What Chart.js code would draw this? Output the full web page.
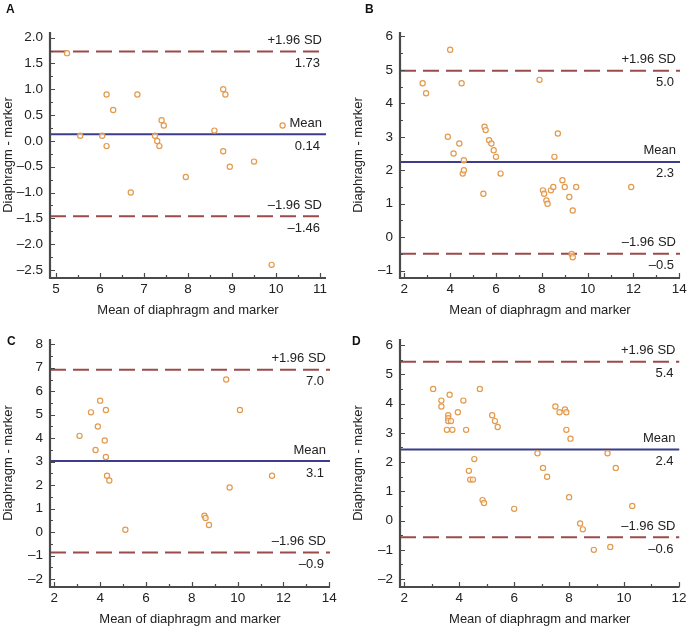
<!DOCTYPE html>
<html>
<head>
<meta charset="utf-8">
<script src="https://cdn.jsdelivr.net/npm/chart.js@4/dist/chart.umd.min.js"></script>
<style>
  html, body { margin: 0; padding: 0; background: #fff; overflow: hidden; }
  #wrap { position: relative; width: 697px; height: 627px; }
  canvas { position: absolute; }
  .tag { position: absolute; font: bold 12px 'Liberation Sans', Arial, sans-serif; color: #111; }
</style>
</head>
<body>
<div id="wrap">
  <canvas id="cA" width="350" height="318" style="left:0;top:0"></canvas>
  <canvas id="cB" width="347" height="318" style="left:350px;top:0"></canvas>
  <canvas id="cC" width="350" height="317" style="left:0;top:310px"></canvas>
  <canvas id="cD" width="347" height="317" style="left:350px;top:310px"></canvas>
  <div class="tag" style="left:6px;top:2px">A</div>
  <div class="tag" style="left:365px;top:2px">B</div>
  <div class="tag" style="left:7px;top:334px">C</div>
  <div class="tag" style="left:352px;top:334px">D</div>
</div>
<script>
// panel A
var aX = [5.25,5.55,6.05,6.15,6.15,6.3,6.7,6.85,7.25,7.3,7.35,7.4,7.45,7.95,8.6,8.8,8.85,8.8,8.95,9.5,9.9,10.15];
var aY = [1.7,0.1,0.1,0.9,-0.1,0.6,-1.0,0.9,0.1,0.0,-0.1,0.4,0.3,-0.7,0.2,1.0,0.9,-0.2,-0.5,-0.4,-2.4,0.3];
var aLines = [1.73, 0.13, -1.46];
var aLabels = ['1.73', '0.14', '–1.46'];

// panel B
var bX = [2.8,2.95,3.9,4.0,4.15,4.4,4.5,4.55,4.6,4.6,5.45,5.5,5.55,5.7,5.8,5.9,6.0,6.2,7.9,8.05,8.1,8.2,8.25,8.4,8.5,8.55,8.7,8.9,9.0,9.2,9.3,9.35,9.35,9.5,11.9];
var bY = [4.6,4.3,3.0,5.6,2.5,2.8,4.6,1.9,2.0,2.3,1.3,3.3,3.2,2.9,2.8,2.6,2.4,1.9,4.7,1.4,1.3,1.1,1.0,1.4,1.5,2.4,3.1,1.7,1.5,1.2,-0.5,0.8,-0.6,1.5,1.5];
var bLines = [4.97, 2.25, -0.49];
var bLabels = ['5.0', '2.3', '–0.5'];

// panel C
var cX = [3.1,3.6,3.8,3.9,4.0,4.2,4.25,4.25,4.3,4.4,5.1,8.55,8.6,8.75,9.5,9.65,10.1,11.5];
var cY = [4.1,5.1,3.5,4.5,5.6,3.9,5.2,3.2,2.4,2.2,0.1,0.7,0.6,0.3,6.5,1.9,5.2,2.4];
var cLines = [6.92, 3.03, -0.87];
var cLabels = ['7.0', '3.1', '–0.9'];

// panel D
var dX = [3.05,3.35,3.35,3.55,3.6,3.6,3.6,3.65,3.7,3.75,3.95,4.15,4.25,4.35,4.4,4.5,4.55,4.75,4.85,4.9,5.2,5.3,5.4,6.0,6.85,7.05,7.2,7.5,7.65,7.85,7.9,7.9,8.0,8.05,8.4,8.5,8.9,9.4,9.5,9.7,10.3];
var dY = [4.5,4.1,3.9,3.1,3.6,3.5,3.4,4.3,3.4,3.1,3.7,4.1,3.1,1.7,1.4,1.4,2.1,4.5,0.7,0.6,3.6,3.4,3.2,0.4,2.3,1.8,1.5,3.9,3.7,3.8,3.7,3.1,0.8,2.8,-0.1,-0.3,-1.0,2.3,-0.9,1.8,0.5];
var dLines = [5.43, 2.43, -0.57];
var dLabels = ['5.4', '2.4', '–0.6'];

var lineNames = ['+1.96 SD', 'Mean', '–1.96 SD'];
var FONT = "'Liberation Sans', Arial, sans-serif";

Chart.defaults.font.family = FONT;
Chart.defaults.font.size = 13;
Chart.defaults.color = '#222';

// inward ticks, axis lines and the reference line labels
var panelDeco = {
  id: 'panelDeco',
  afterDraw: function(chart) {
    var ctx = chart.ctx, a = chart.chartArea, o = chart.options.plugins.panelDeco;
    var xs = chart.scales.x, ys = chart.scales.y;
    ctx.save();
    ctx.strokeStyle = '#4a4a4a';
    ctx.lineWidth = 1.2;
    ctx.beginPath();
    var v, p, len;
    for (v = Math.ceil(xs.min / o.xMinor) * o.xMinor; v <= xs.max + 1e-9; v += o.xMinor) {
      p = Math.round(xs.getPixelForValue(v)) + 0.5;
      len = Math.abs(v / o.xStep - Math.round(v / o.xStep)) < 1e-6 ? 5 : 3;
      ctx.moveTo(p, a.bottom); ctx.lineTo(p, a.bottom - len);
    }
    for (v = Math.ceil(ys.min / o.yMinor) * o.yMinor; v <= ys.max + 1e-9; v += o.yMinor) {
      p = Math.round(ys.getPixelForValue(v)) + 0.5;
      len = Math.abs(v / o.yStep - Math.round(v / o.yStep)) < 1e-6 ? 5 : 3;
      ctx.moveTo(a.left, p); ctx.lineTo(a.left + len, p);
    }
    ctx.stroke();
    ctx.lineWidth = 2.2;
    ctx.beginPath();
    ctx.moveTo(a.left, a.top); ctx.lineTo(a.left, a.bottom); ctx.lineTo(a.right, a.bottom);
    ctx.stroke();

    ctx.fillStyle = '#222';
    ctx.font = '13px ' + FONT;
    ctx.textAlign = 'right';
    ctx.textBaseline = 'middle';
    for (var i = 0; i < o.lines.length; i++) {
      var y = ys.getPixelForValue(o.lines[i]);
      ctx.fillText(lineNames[i], a.right - 4, y - 11);
      ctx.fillText(o.labels[i], a.right - 6, y + 12);
    }
    ctx.restore();
  }
};

function fmt(dec) {
  return function(value) { return value.toFixed(dec).replace('-', '–'); };
}

function makePanel(id, xs, ys, lines, labels, g) {
  var pts = xs.map(function(x, i) { return {x: x, y: ys[i]}; });
  var refStyles = [
    {color: '#9c4b4b', dash: [16, 7]},
    {color: '#3b3d8c', dash: []},
    {color: '#9c4b4b', dash: [16, 7]}
  ];
  var datasets = [{
    type: 'scatter',
    data: pts,
    pointRadius: 2.6,
    pointBorderWidth: 1.2,
    pointBorderColor: '#e39a4c',
    pointBackgroundColor: 'rgba(255,255,255,0.6)'
  }];
  lines.forEach(function(v, i) {
    datasets.push({
      type: 'line',
      data: [{x: g.xMin, y: v}, {x: g.xMax, y: v}],
      borderColor: refStyles[i].color,
      borderDash: refStyles[i].dash,
      borderWidth: 2,
      pointRadius: 0
    });
  });
  var canvas = document.getElementById(id);
  var W = canvas.width, H = canvas.height;
  return new Chart(canvas, {
    type: 'scatter',
    data: {datasets: datasets},
    options: {
      responsive: false,
      animation: false,
      devicePixelRatio: 1,
      layout: {padding: {left: 0, bottom: 0, top: g.top, right: W - g.right}},
      plugins: {
        legend: {display: false},
        tooltip: {enabled: false},
        panelDeco: {lines: lines, labels: labels, xStep: g.xStep, xMinor: g.xMinor, yStep: g.yStep, yMinor: g.yMinor}
      },
      scales: {
        x: {
          type: 'linear',
          min: g.xMin, max: g.xMax,
          grid: {display: false, drawTicks: false},
          border: {display: false},
          ticks: {stepSize: g.xStep, includeBounds: false, autoSkip: false, maxRotation: 0, padding: 3, callback: fmt(0), color: '#222', font: {size: 13.5}},
          title: {display: true, text: 'Mean of diaphragm and marker', color: '#222', font: {size: 13}, padding: {top: 0, bottom: 0}},
          afterFit: function(s) { s.height = H - g.bottom; }
        },
        y: {
          type: 'linear',
          min: g.yMin, max: g.yMax,
          grid: {display: false, drawTicks: false},
          border: {display: false},
          ticks: {stepSize: g.yStep, includeBounds: false, autoSkip: false, padding: 7, callback: fmt(g.yDec), color: '#222', font: {size: 13.5}},
          title: {display: true, text: 'Diaphragm - marker', color: '#222', font: {size: 13}, padding: {top: 1, bottom: 0}},
          afterFit: function(s) { s.width = 50; }
        }
      }
    },
    plugins: [panelDeco]
  });
}

makePanel('cA', aX, aY, aLines, aLabels,
  {xMin: 4.864, xMax: 11.136, xStep: 1, xMinor: 0.5, yMin: -2.655, yMax: 2.11, yStep: 0.5, yMinor: 0.25, yDec: 1, top: 32, bottom: 278, right: 326});
makePanel('cB', bX, bY, bLines, bLabels,
  {xMin: 1.812, xMax: 14.03, xStep: 2, xMinor: 1, yMin: -1.218, yMax: 6.13, yStep: 1, yMinor: 0.5, yDec: 0, top: 32, bottom: 278, right: 330});
makePanel('cC', cX, cY, cLines, cLabels,
  {xMin: 1.812, xMax: 14.03, xStep: 2, xMinor: 1, yMin: -2.34, yMax: 8.226, yStep: 1, yMinor: 0.5, yDec: 0, top: 29, bottom: 277, right: 330});
makePanel('cD', dX, dY, dLines, dLabels,
  {xMin: 1.843, xMax: 12.02, xStep: 2, xMinor: 1, yMin: -2.27, yMax: 6.205, yStep: 1, yMinor: 0.5, yDec: 0, top: 29, bottom: 277, right: 329.5});
</script>
</body>
</html>
